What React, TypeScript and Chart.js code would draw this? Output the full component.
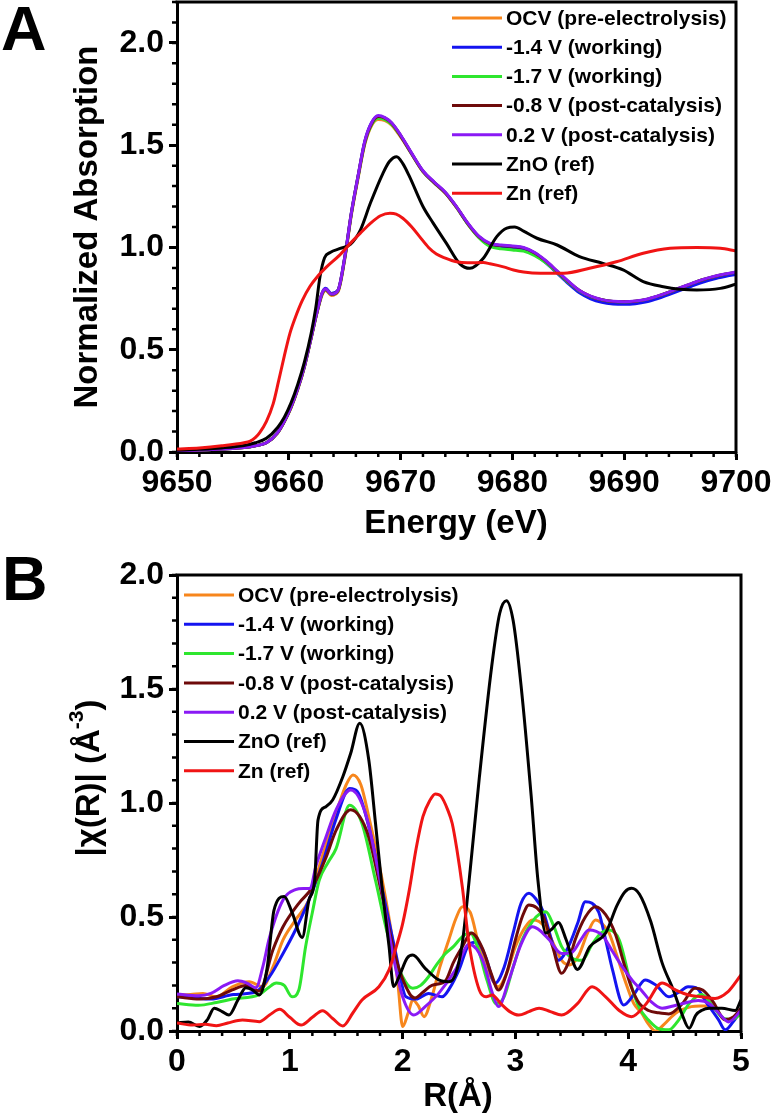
import React, { useEffect, useRef } from 'react';
import { Chart, registerables } from 'chart.js';
Chart.register(...registerables);

// ---------------- Panel A : XANES ----------------
const E_SAMPLES = [9650, 9652, 9654, 9656, 9657, 9658, 9659, 9659.6, 9660.2, 9660.8, 9661.4, 9662.0, 9662.5, 9663.0, 9663.3, 9663.8, 9664.4, 9665.0, 9665.6, 9666.2, 9666.8, 9667.4, 9668.0, 9668.6, 9669.2, 9670, 9671, 9672, 9673, 9674, 9675, 9676, 9677, 9678, 9679, 9680, 9681, 9682, 9683, 9684, 9685, 9686, 9687, 9688, 9689, 9690, 9691, 9692, 9693, 9694, 9695, 9696, 9697, 9698, 9699, 9700];
const A_OCV = [0.005, 0.01, 0.015, 0.022, 0.03, 0.045, 0.093, 0.148, 0.215, 0.305, 0.415, 0.555, 0.675, 0.77, 0.79, 0.765, 0.782, 0.94, 1.16, 1.34, 1.505, 1.595, 1.625, 1.62, 1.598, 1.54, 1.455, 1.37, 1.315, 1.265, 1.195, 1.115, 1.05, 1.017, 1.008, 1.003, 0.996, 0.972, 0.932, 0.882, 0.832, 0.788, 0.76, 0.743, 0.735, 0.733, 0.736, 0.745, 0.761, 0.78, 0.8, 0.82, 0.84, 0.855, 0.867, 0.877];
const A_M14 = [0.005, 0.01, 0.015, 0.022, 0.03, 0.045, 0.095, 0.15, 0.22, 0.31, 0.42, 0.56, 0.68, 0.78, 0.8, 0.775, 0.792, 0.952, 1.172, 1.352, 1.52, 1.61, 1.642, 1.632, 1.607, 1.547, 1.457, 1.372, 1.317, 1.267, 1.197, 1.117, 1.052, 1.015, 1.005, 1.0, 0.992, 0.966, 0.925, 0.874, 0.823, 0.778, 0.749, 0.732, 0.724, 0.722, 0.725, 0.734, 0.75, 0.77, 0.79, 0.81, 0.83, 0.846, 0.858, 0.868];
const A_M17 = [0.005, 0.01, 0.015, 0.022, 0.03, 0.045, 0.094, 0.149, 0.218, 0.308, 0.418, 0.558, 0.678, 0.775, 0.793, 0.77, 0.787, 0.945, 1.165, 1.345, 1.51, 1.6, 1.632, 1.625, 1.602, 1.545, 1.457, 1.372, 1.317, 1.267, 1.197, 1.115, 1.048, 1.005, 0.993, 0.988, 0.982, 0.96, 0.925, 0.878, 0.83, 0.787, 0.76, 0.744, 0.736, 0.734, 0.737, 0.746, 0.762, 0.781, 0.802, 0.822, 0.842, 0.857, 0.869, 0.879];
const A_M08 = [0.005, 0.01, 0.015, 0.022, 0.03, 0.045, 0.094, 0.149, 0.219, 0.309, 0.419, 0.559, 0.679, 0.778, 0.795, 0.771, 0.789, 0.948, 1.168, 1.348, 1.515, 1.605, 1.64, 1.632, 1.607, 1.547, 1.458, 1.373, 1.318, 1.268, 1.198, 1.118, 1.053, 1.018, 1.01, 1.005, 0.998, 0.973, 0.933, 0.883, 0.833, 0.789, 0.761, 0.744, 0.736, 0.734, 0.737, 0.746, 0.762, 0.781, 0.802, 0.822, 0.842, 0.857, 0.869, 0.879];
const A_P02 = [0.005, 0.01, 0.015, 0.022, 0.03, 0.045, 0.095, 0.15, 0.22, 0.31, 0.42, 0.56, 0.68, 0.78, 0.797, 0.772, 0.79, 0.95, 1.17, 1.35, 1.52, 1.61, 1.645, 1.635, 1.61, 1.55, 1.46, 1.375, 1.32, 1.27, 1.2, 1.12, 1.055, 1.02, 1.012, 1.007, 1.0, 0.975, 0.935, 0.885, 0.835, 0.79, 0.762, 0.745, 0.737, 0.735, 0.738, 0.747, 0.763, 0.782, 0.803, 0.823, 0.843, 0.858, 0.87, 0.88];

const E_ZNO = [9650, 9652, 9654, 9656, 9657, 9658, 9659, 9659.6, 9660.2, 9660.8, 9661.4, 9662.0, 9662.4, 9662.8, 9663.2, 9663.7, 9664.6, 9665.5, 9666.4, 9667.3, 9668.4, 9669.0, 9669.65, 9670.2, 9670.8, 9672.0, 9672.9, 9674.1, 9675.3, 9676.2, 9677.4, 9678.6, 9679.5, 9680.2, 9681.0, 9682.2, 9684.0, 9686.0, 9688.1, 9689.9, 9691.7, 9693.5, 9695.0, 9696.5, 9698.6, 9700];
const A_ZNO = [0.008, 0.013, 0.02, 0.032, 0.045, 0.067, 0.12, 0.17, 0.24, 0.33, 0.44, 0.58, 0.7, 0.86, 0.95, 0.975, 0.995, 1.015, 1.085, 1.217, 1.36, 1.42, 1.444, 1.41, 1.346, 1.2, 1.12, 1.02, 0.92, 0.898, 0.947, 1.053, 1.095, 1.1, 1.08, 1.045, 1.012, 0.955, 0.922, 0.89, 0.833, 0.808, 0.796, 0.792, 0.8, 0.82];

const E_ZN = [9650, 9652, 9654, 9656, 9656.5, 9657, 9657.4, 9658, 9658.6, 9659.1, 9659.6, 9660.1, 9660.6, 9661.2, 9661.9, 9662.6, 9663.4, 9664.5, 9665.5, 9666.4, 9667.3, 9668.2, 9669.05, 9669.6, 9670.2, 9671.0, 9671.7, 9672.5, 9673.2, 9674.0, 9675, 9676, 9677.4, 9678, 9679.2, 9680.1, 9681, 9682.5, 9684.6, 9686.9, 9689.3, 9691.7, 9694.1, 9696.5, 9698.6, 9700];
const A_ZN = [0.015, 0.02, 0.03, 0.045, 0.052, 0.07, 0.095, 0.15, 0.235, 0.35, 0.47, 0.58, 0.66, 0.74, 0.81, 0.86, 0.906, 0.96, 1.02, 1.07, 1.118, 1.155, 1.167, 1.163, 1.143, 1.1, 1.053, 1.0, 0.968, 0.948, 0.93, 0.925, 0.926, 0.92, 0.905, 0.89, 0.88, 0.874, 0.874, 0.898, 0.93, 0.972, 0.996, 1.0, 0.996, 0.983];

const A_X_TICKS = [9650, 9660, 9670, 9680, 9690, 9700];
const A_Y_TICKS = [0, 0.5, 1.0, 1.5, 2.0];

// ---------------- Panel B : FT-EXAFS ----------------
const R_OCV = [0, 0.12, 0.23, 0.35, 0.49, 0.64, 0.76, 0.85, 0.94, 1.05, 1.17, 1.26, 1.41, 1.5, 1.56, 1.63, 1.7, 1.82, 1.91, 1.96, 2.0, 2.05, 2.09, 2.14, 2.19, 2.26, 2.33, 2.41, 2.47, 2.53, 2.6, 2.68, 2.77, 2.85, 2.92, 3.0, 3.08, 3.15, 3.21, 3.27, 3.34, 3.41, 3.48, 3.56, 3.64, 3.71, 3.77, 3.83, 3.9, 3.97, 4.05, 4.12, 4.18, 4.24, 4.32, 4.42, 4.56, 4.64, 4.72, 4.8, 4.86, 4.93, 5.0];
const B_OCV = [0.158, 0.16, 0.165, 0.15, 0.194, 0.216, 0.194, 0.28, 0.4, 0.487, 0.575, 0.72, 0.955, 1.08, 1.123, 1.08, 0.94, 0.66, 0.4, 0.2, 0.02, 0.08, 0.136, 0.11, 0.063, 0.15, 0.28, 0.4, 0.49, 0.545, 0.52, 0.37, 0.25, 0.194, 0.25, 0.37, 0.45, 0.487, 0.48, 0.45, 0.38, 0.31, 0.29, 0.33, 0.43, 0.487, 0.47, 0.43, 0.33, 0.224, 0.12, 0.078, 0.03, 0.0, 0.03, 0.078, 0.107, 0.11, 0.11, 0.08, 0.048, 0.06, 0.09];

const R_M14 = [0, 0.15, 0.3, 0.5, 0.7, 0.82, 0.94, 1.05, 1.17, 1.29, 1.41, 1.53, 1.6, 1.7, 1.82, 1.94, 2.03, 2.12, 2.23, 2.35, 2.42, 2.5, 2.59, 2.66, 2.74, 2.82, 2.9, 2.98, 3.05, 3.12, 3.18, 3.25, 3.32, 3.38, 3.47, 3.55, 3.62, 3.68, 3.74, 3.8, 3.86, 3.96, 4.05, 4.15, 4.25, 4.36, 4.45, 4.53, 4.6, 4.7, 4.8, 4.86, 4.93, 5.0];
const B_M14 = [0.15, 0.145, 0.14, 0.16, 0.172, 0.238, 0.34, 0.443, 0.575, 0.735, 0.93, 1.064, 1.05, 0.896, 0.62, 0.34, 0.15, 0.14, 0.165, 0.15, 0.19, 0.268, 0.38, 0.39, 0.32, 0.21, 0.28, 0.43, 0.56, 0.604, 0.58, 0.52, 0.4, 0.31, 0.37, 0.47, 0.567, 0.56, 0.52, 0.4, 0.27, 0.114, 0.16, 0.224, 0.2, 0.15, 0.17, 0.194, 0.19, 0.12, 0.05, 0.005, 0.04, 0.09];

const R_M17 = [0, 0.19, 0.35, 0.49, 0.73, 0.81, 0.88, 0.95, 1.02, 1.08, 1.14, 1.2, 1.26, 1.34, 1.41, 1.53, 1.64, 1.76, 1.88, 2.0, 2.09, 2.16, 2.23, 2.3, 2.38, 2.45, 2.53, 2.6, 2.67, 2.75, 2.83, 2.9, 2.98, 3.06, 3.15, 3.22, 3.27, 3.34, 3.41, 3.5, 3.59, 3.68, 3.76, 3.83, 3.92, 4.03, 4.1, 4.18, 4.27, 4.36, 4.45, 4.54, 4.65, 4.75, 4.83, 4.92, 5.0];
const B_M17 = [0.121, 0.113, 0.125, 0.14, 0.16, 0.19, 0.21, 0.2, 0.15, 0.18, 0.37, 0.52, 0.66, 0.74, 0.8, 0.99, 0.91, 0.66, 0.4, 0.238, 0.187, 0.2, 0.238, 0.29, 0.34, 0.37, 0.414, 0.43, 0.36, 0.22, 0.12, 0.15, 0.28, 0.4, 0.48, 0.515, 0.523, 0.46, 0.37, 0.32, 0.31, 0.38, 0.43, 0.443, 0.4, 0.194, 0.1, 0.048, 0.01, 0.005, 0.05, 0.12, 0.16, 0.11, 0.06, 0.05, 0.075];

const R_M08 = [0, 0.2, 0.35, 0.49, 0.61, 0.73, 0.85, 0.94, 1.08, 1.2, 1.32, 1.41, 1.54, 1.62, 1.7, 1.82, 1.94, 2.06, 2.11, 2.18, 2.26, 2.38, 2.45, 2.53, 2.61, 2.71, 2.78, 2.85, 2.92, 3.0, 3.06, 3.12, 3.19, 3.25, 3.33, 3.41, 3.47, 3.53, 3.62, 3.71, 3.8, 3.89, 3.96, 4.03, 4.1, 4.18, 4.27, 4.36, 4.48, 4.59, 4.66, 4.75, 4.86, 4.93, 5.0];
const B_M08 = [0.15, 0.14, 0.15, 0.18, 0.2, 0.175, 0.355, 0.457, 0.56, 0.63, 0.76, 0.88, 0.97, 0.94, 0.85, 0.59, 0.32, 0.165, 0.145, 0.17, 0.2, 0.22, 0.3, 0.37, 0.43, 0.36, 0.26, 0.18, 0.25, 0.4, 0.5, 0.553, 0.54, 0.5, 0.37, 0.253, 0.3, 0.4, 0.5, 0.545, 0.51, 0.42, 0.3, 0.19, 0.12, 0.09, 0.08, 0.075, 0.12, 0.187, 0.18, 0.13, 0.05, 0.06, 0.1];

const R_P02 = [0, 0.19, 0.3, 0.42, 0.54, 0.62, 0.7, 0.76, 0.82, 0.94, 1.05, 1.12, 1.18, 1.23, 1.32, 1.41, 1.54, 1.67, 1.8, 1.92, 2.0, 2.1, 2.2, 2.32, 2.47, 2.59, 2.71, 2.8, 2.85, 2.94, 3.05, 3.15, 3.22, 3.3, 3.41, 3.5, 3.58, 3.65, 3.77, 3.86, 3.95, 4.04, 4.12, 4.2, 4.3, 4.4, 4.48, 4.62, 4.72, 4.8, 4.89, 5.0];
const B_P02 = [0.162, 0.155, 0.165, 0.2, 0.22, 0.21, 0.19, 0.28, 0.41, 0.575, 0.62, 0.625, 0.625, 0.72, 0.85, 0.97, 1.057, 0.955, 0.66, 0.32, 0.15, 0.07, 0.107, 0.165, 0.27, 0.38, 0.31, 0.16, 0.107, 0.22, 0.38, 0.457, 0.44, 0.4, 0.34, 0.345, 0.4, 0.443, 0.42, 0.35, 0.28, 0.22, 0.177, 0.13, 0.1, 0.11, 0.12, 0.134, 0.12, 0.08, 0.04, 0.09];

const R_ZNO = [0, 0.1, 0.2, 0.27, 0.33, 0.4, 0.46, 0.54, 0.61, 0.67, 0.73, 0.8, 0.86, 0.95, 1.02, 1.11, 1.17, 1.22, 1.25, 1.32, 1.38, 1.47, 1.54, 1.62, 1.7, 1.76, 1.82, 1.88, 1.92, 1.97, 2.04, 2.09, 2.2, 2.32, 2.41, 2.47, 2.53, 2.6, 2.68, 2.79, 2.86, 2.92, 2.98, 3.05, 3.14, 3.2, 3.27, 3.33, 3.38, 3.45, 3.55, 3.66, 3.8, 3.9, 3.97, 4.03, 4.1, 4.2, 4.3, 4.4, 4.48, 4.54, 4.6, 4.65, 4.72, 4.83, 4.95, 5.0];
const B_ZNO = [0.035, 0.04, 0.02, 0.05, 0.1, 0.085, 0.07, 0.136, 0.19, 0.18, 0.158, 0.28, 0.53, 0.59, 0.52, 0.41, 0.575, 0.66, 0.925, 0.984, 1.013, 1.115, 1.218, 1.35, 1.19, 0.91, 0.62, 0.37, 0.195, 0.24, 0.32, 0.333, 0.275, 0.224, 0.216, 0.25, 0.387, 0.71, 1.11, 1.6, 1.83, 1.887, 1.8, 1.516, 1.03, 0.66, 0.43, 0.45, 0.476, 0.4, 0.27, 0.37, 0.43, 0.55, 0.61, 0.626, 0.6, 0.48, 0.3, 0.18, 0.07, 0.012, 0.07, 0.09, 0.1, 0.1, 0.09, 0.136];

const R_ZN = [0, 0.14, 0.25, 0.35, 0.45, 0.58, 0.73, 0.82, 0.91, 1.0, 1.1, 1.2, 1.29, 1.38, 1.47, 1.56, 1.64, 1.79, 1.88, 1.95, 2.0, 2.06, 2.12, 2.18, 2.24, 2.29, 2.34, 2.4, 2.44, 2.48, 2.53, 2.59, 2.68, 2.74, 2.795, 2.87, 2.95, 3.03, 3.12, 3.21, 3.31, 3.41, 3.55, 3.68, 3.8, 3.92, 4.03, 4.16, 4.3, 4.42, 4.535, 4.65, 4.77, 4.88, 5.0];
const B_ZN = [0.035, 0.026, 0.03, 0.023, 0.035, 0.048, 0.041, 0.07, 0.095, 0.06, 0.026, 0.06, 0.089, 0.055, 0.022, 0.08, 0.136, 0.194, 0.268, 0.38, 0.47, 0.62, 0.8, 0.94, 1.01, 1.04, 1.03, 0.97, 0.91, 0.8, 0.63, 0.38, 0.18, 0.15, 0.158, 0.12, 0.085, 0.07, 0.085, 0.1, 0.085, 0.07, 0.12, 0.194, 0.15, 0.09, 0.063, 0.12, 0.21, 0.18, 0.158, 0.15, 0.143, 0.17, 0.246];

const B_X_TICKS = [0, 1, 2, 3, 4, 5];
const B_Y_TICKS = [0, 0.5, 1.0, 1.5, 2.0];

const SERIES_LABELS = ['OCV (pre-electrolysis)', '-1.4 V (working)', '-1.7 V (working)', '-0.8 V (post-catalysis)', '0.2 V (post-catalysis)', 'ZnO (ref)', 'Zn (ref)'];
const SERIES_COLORS = ['#F7861C', '#1414F0', '#2EE62E', '#6E0A0A', '#8A1AF5', '#000000', '#F01414'];

const FAMILY = '"Liberation Sans", Arial, Helvetica, sans-serif';

const pairs = (xs: number[], ys: number[]) => xs.map((x, i) => ({ x, y: ys[i] }));

function buildDatasets(series: [number[], number[]][]) {
  return series.map(([xs, ys], i) => ({
    label: SERIES_LABELS[i],
    data: pairs(xs, ys),
    borderColor: SERIES_COLORS[i],
    backgroundColor: SERIES_COLORS[i],
    borderWidth: 3,
    pointRadius: 0,
    fill: false,
    cubicInterpolationMode: 'monotone',
    order: series.length - 1 - i,
  }));
}

type Decor = {
  letter: string; letterX: number; letterY: number;
  xTitle: string; xTitleX: number; xTitleY: number;
  yTitle: { text: string; sup?: string; after?: string }; yTitleX: number; yTitleY: number;
  legendX: number; legendY0: number; legendDy: number;
  xMinor: number; yMinor: number;
};

function decorPlugin(d: Decor) {
  return {
    id: 'decor',
    afterDraw(chart: any) {
      const { ctx, chartArea: ca, scales } = chart;
      const xs = scales.x, ys = scales.y;
      ctx.save();
      ctx.strokeStyle = '#000';
      ctx.lineWidth = 3;
      ctx.lineCap = 'butt';
      // top & right frame
      ctx.beginPath();
      ctx.moveTo(ca.left - 1.5, ca.top);
      ctx.lineTo(ca.right, ca.top);
      ctx.lineTo(ca.right, ca.bottom + 1.5);
      ctx.stroke();
      // minor ticks
      ctx.lineWidth = 2.5;
      ctx.beginPath();
      for (let v = xs.min; v <= xs.max + 1e-9; v += d.xMinor) {
        const p = xs.getPixelForValue(v);
        ctx.moveTo(p, ca.bottom);
        ctx.lineTo(p, ca.bottom + 5);
      }
      for (let v = ys.min; v <= ys.max + 1e-9; v += d.yMinor) {
        const p = ys.getPixelForValue(v);
        ctx.moveTo(ca.left, p);
        ctx.lineTo(ca.left - 5, p);
      }
      ctx.stroke();
      // legend
      ctx.font = `bold 21px ${FAMILY}`;
      ctx.textBaseline = 'middle';
      ctx.textAlign = 'left';
      SERIES_LABELS.forEach((lab, i) => {
        const y = d.legendY0 + i * d.legendDy;
        ctx.strokeStyle = SERIES_COLORS[i];
        ctx.lineWidth = 3;
        ctx.beginPath();
        ctx.moveTo(d.legendX, y);
        ctx.lineTo(d.legendX + 50, y);
        ctx.stroke();
        ctx.fillStyle = '#000';
        ctx.fillText(lab, d.legendX + 54, y + 1);
      });
      // axis titles
      ctx.fillStyle = '#000';
      ctx.font = `bold 33px ${FAMILY}`;
      ctx.textAlign = 'center';
      ctx.textBaseline = 'middle';
      ctx.fillText(d.xTitle, d.xTitleX, d.xTitleY);
      ctx.save();
      ctx.translate(d.yTitleX, d.yTitleY);
      ctx.rotate(-Math.PI / 2);
      ctx.textAlign = 'left';
      const big = `bold 33px ${FAMILY}`;
      const small = `bold 21px ${FAMILY}`;
      ctx.font = big;
      const w1 = ctx.measureText(d.yTitle.text).width;
      ctx.font = small;
      const w2 = d.yTitle.sup ? ctx.measureText(d.yTitle.sup).width : 0;
      ctx.font = big;
      const w3 = d.yTitle.after ? ctx.measureText(d.yTitle.after).width : 0;
      let x0 = -(w1 + w2 + w3) / 2;
      ctx.fillText(d.yTitle.text, x0, 0);
      x0 += w1;
      if (d.yTitle.sup) {
        ctx.font = small;
        ctx.fillText(d.yTitle.sup, x0, -13);
        x0 += w2;
      }
      if (d.yTitle.after) {
        ctx.font = big;
        ctx.fillText(d.yTitle.after, x0, 0);
      }
      ctx.restore();
      // panel letter
      ctx.font = `bold 63px ${FAMILY}`;
      ctx.textAlign = 'left';
      ctx.textBaseline = 'alphabetic';
      ctx.fillText(d.letter, d.letterX, d.letterY);
      ctx.restore();
    },
  };
}

function makeOptions(o: {
  xMin: number; xMax: number; yMin: number; yMax: number;
  xTicks: number[]; yTicks: number[];
  xFmt: (v: number) => string; yFmt: (v: number) => string;
  padTop: number; padRight: number; yAxisW: number; xAxisH: number;
}) {
  const tickFont = { family: FAMILY, size: 32, weight: 'bold' as const };
  const grid = { display: true, drawOnChartArea: false, drawTicks: true, tickLength: 8, tickWidth: 3, tickColor: '#000', color: '#000' };
  const border = { display: true, width: 3, color: '#000' };
  return {
    animation: false,
    responsive: false,
    devicePixelRatio: 1,
    layout: { padding: { left: 0, right: o.padRight, top: o.padTop, bottom: 0 } },
    plugins: { legend: { display: false }, tooltip: { enabled: false }, title: { display: false } },
    elements: { point: { radius: 0 }, line: { borderWidth: 3 } },
    scales: {
      x: {
        type: 'linear', min: o.xMin, max: o.xMax,
        afterBuildTicks: (s: any) => { s.ticks = o.xTicks.map((v) => ({ value: v })); },
        afterFit: (s: any) => { s.height = o.xAxisH; s.paddingLeft = 0; s.paddingRight = 0; },
        ticks: { font: tickFont, color: '#000', padding: 4, maxRotation: 0, autoSkip: false, callback: (v: any) => o.xFmt(Number(v)) },
        grid, border,
      },
      y: {
        type: 'linear', min: o.yMin, max: o.yMax,
        afterBuildTicks: (s: any) => { s.ticks = o.yTicks.map((v) => ({ value: v })); },
        afterFit: (s: any) => { s.width = o.yAxisW; s.paddingTop = 0; s.paddingBottom = 0; },
        ticks: { font: tickFont, color: '#000', padding: 5, autoSkip: false, callback: (v: any) => o.yFmt(Number(v)) },
        grid, border,
      },
    },
  };
}

function Panel(props: { width: number; height: number; top: number; config: any }) {
  const ref = useRef<HTMLCanvasElement>(null);
  useEffect(() => {
    if (!ref.current) return;
    const chart = new Chart(ref.current, props.config);
    return () => chart.destroy();
  }, []);
  return (
    <canvas
      ref={ref}
      width={props.width}
      height={props.height}
      style={{ position: 'absolute', left: 0, top: props.top, width: props.width, height: props.height }}
    />
  );
}

export default function App() {
  const configA = {
    type: 'line',
    data: {
      datasets: buildDatasets([
        [E_SAMPLES, A_OCV], [E_SAMPLES, A_M14], [E_SAMPLES, A_M17], [E_SAMPLES, A_M08], [E_SAMPLES, A_P02],
        [E_ZNO, A_ZNO], [E_ZN, A_ZN],
      ]),
    },
    options: makeOptions({
      xMin: 9650, xMax: 9700, yMin: 0, yMax: 2.2,
      xTicks: A_X_TICKS, yTicks: A_Y_TICKS,
      xFmt: (v) => String(Math.round(v)), yFmt: (v) => v.toFixed(1),
      padTop: 2, padRight: 35, yAxisW: 177, xAxisH: 100,
    }),
    plugins: [decorPlugin({
      letter: 'A', letterX: 1, letterY: 50,
      xTitle: 'Energy (eV)', xTitleX: 456, xTitleY: 524,
      yTitle: { text: 'Normalized Absorption' }, yTitleX: 88, yTitleY: 227,
      legendX: 452, legendY0: 18, legendDy: 29.2,
      xMinor: 2, yMinor: 0.1,
    })],
  };
  const configB = {
    type: 'line',
    data: {
      datasets: buildDatasets([
        [R_OCV, B_OCV], [R_M14, B_M14], [R_M17, B_M17], [R_M08, B_M08], [R_P02, B_P02],
        [R_ZNO, B_ZNO], [R_ZN, B_ZN],
      ]),
    },
    options: makeOptions({
      xMin: 0, xMax: 5, yMin: 0, yMax: 2.0,
      xTicks: B_X_TICKS, yTicks: B_Y_TICKS,
      xFmt: (v) => String(Math.round(v)), yFmt: (v) => v.toFixed(1),
      padTop: 23, padRight: 30, yAxisW: 177, xAxisH: 83,
    }),
    plugins: [decorPlugin({
      letter: 'B', letterX: 2, letterY: 48,
      xTitle: 'R(Å)', xTitleX: 458, xTitleY: 545,
      yTitle: { text: '|χ(R)| (Å', sup: '-3', after: ')' }, yTitleX: 90, yTitleY: 226,
      legendX: 184, legendY0: 43, legendDy: 29.3,
      xMinor: 0.2, yMinor: 0.1,
    })],
  };
  return (
    <div style={{ position: 'fixed', left: 0, top: 0, width: 771, height: 1114, background: '#fff' }}>
      <Panel width={771} height={552} top={0} config={configA} />
      <Panel width={771} height={562} top={552} config={configB} />
    </div>
  );
}
